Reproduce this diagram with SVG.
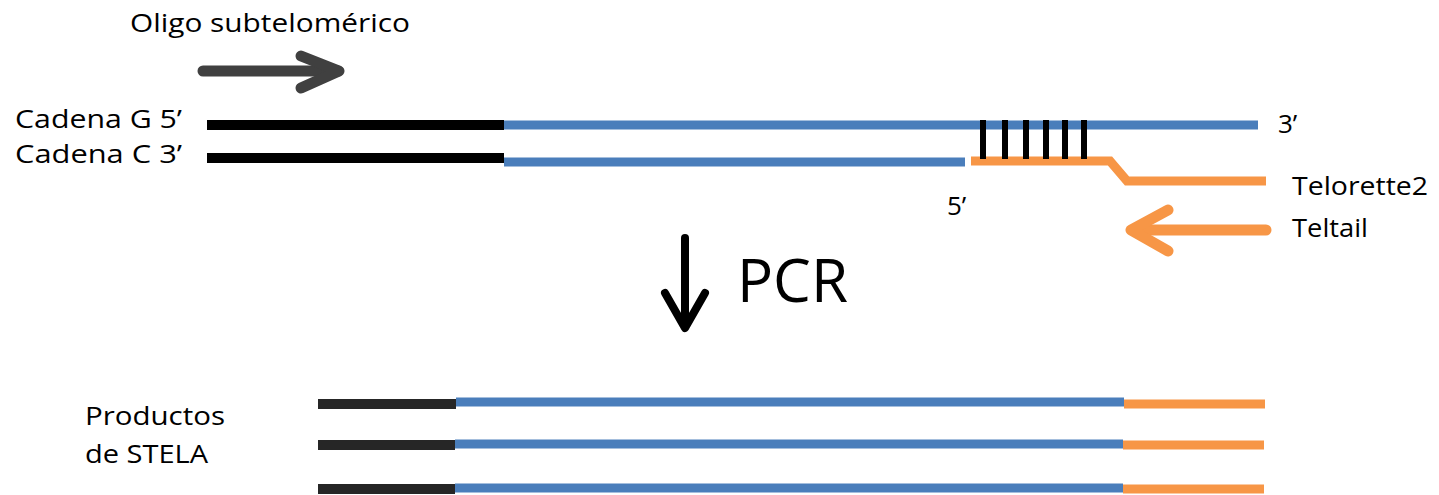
<svg xmlns="http://www.w3.org/2000/svg" width="1439" height="495" viewBox="0 0 1439 495">
  <style>
    .lbl { font-family: "Open Sans", "Liberation Sans", sans-serif; font-size: 26px; fill: #000; }
    .big { font-family: "Open Sans", "Liberation Sans", sans-serif; font-size: 60px; fill: #000; }
    .blk { stroke: #000; stroke-width: 10; fill: none; }
    .dk { stroke: #262626; stroke-width: 10; fill: none; }
    .blu { stroke: #4a7ebb; stroke-width: 9; fill: none; }
    .org { stroke: #f79646; stroke-width: 9; fill: none; }
    .tick { stroke: #000; stroke-width: 6; }
  </style>
  <rect width="1439" height="495" fill="#fff"/>

  <!-- labels -->
  <g id="labels">
    <text class="lbl" x="130" y="32" textLength="280" lengthAdjust="spacingAndGlyphs">Oligo subtelomérico</text>
    <text class="lbl" x="15" y="128" textLength="167" lengthAdjust="spacingAndGlyphs">Cadena G 5’</text>
    <text class="lbl" x="15" y="163" textLength="167" lengthAdjust="spacingAndGlyphs">Cadena C 3’</text>
    <text class="lbl" x="1278" y="133">3’</text>
    <text class="lbl" x="947" y="215">5’</text>
    <text class="lbl" x="1292" y="195" textLength="136" lengthAdjust="spacingAndGlyphs">Telorette2</text>
    <text class="lbl" x="1292" y="237" textLength="76" lengthAdjust="spacingAndGlyphs">Teltail</text>
    <text class="big" x="737" y="302" textLength="111" lengthAdjust="spacingAndGlyphs">PCR</text>
    <text class="lbl" x="85" y="425" textLength="140" lengthAdjust="spacingAndGlyphs">Productos</text>
    <text class="lbl" x="85" y="463" textLength="123" lengthAdjust="spacingAndGlyphs">de STELA</text>
  </g>

  <!-- primer oligo arrow (forward) -->
  <g id="oligo-arrow" stroke="#404040" stroke-width="11" stroke-linecap="round" stroke-linejoin="round" fill="none">
    <line x1="203" y1="71" x2="338" y2="71"/>
    <polyline points="301,56 339,71 301,88"/>
  </g>

  <!-- G strand -->
  <g id="g-strand">
    <line class="blk" x1="207" y1="125" x2="504" y2="125"/>
    <line class="blu" x1="504" y1="125" x2="1258" y2="125"/>
  </g>

  <!-- C strand -->
  <g id="c-strand">
    <line class="blk" x1="207" y1="158" x2="504" y2="158"/>
    <line class="blu" x1="504" y1="162" x2="965" y2="162"/>
  </g>

  <!-- Telorette2 linker with base pairing -->
  <g id="telorette2">
    <polyline class="org" points="971,161 1110,161 1127,181 1266,181"/>
    <g id="pairs">
      <line class="tick" x1="983" y1="120" x2="983" y2="159"/>
      <line class="tick" x1="1005" y1="120" x2="1005" y2="159"/>
      <line class="tick" x1="1026" y1="120" x2="1026" y2="159"/>
      <line class="tick" x1="1046" y1="120" x2="1046" y2="159"/>
      <line class="tick" x1="1065" y1="120" x2="1065" y2="159"/>
      <line class="tick" x1="1084" y1="120" x2="1084" y2="159"/>
    </g>
  </g>

  <!-- Teltail primer arrow (reverse) -->
  <g id="teltail-arrow" stroke="#f79646" stroke-width="11" stroke-linecap="round" stroke-linejoin="round" fill="none">
    <line x1="1133" y1="230" x2="1266" y2="230"/>
    <polyline points="1168,210 1131,230 1168,251"/>
  </g>

  <!-- PCR step arrow -->
  <g id="pcr-arrow" stroke="#000" stroke-width="8" stroke-linecap="round" stroke-linejoin="round" fill="none">
    <line x1="685" y1="238" x2="685" y2="326"/>
    <polyline points="665,293 685,328 705,293"/>
  </g>

  <!-- STELA products -->
  <g id="products">
    <g id="product-1">
      <line class="dk" x1="318" y1="404" x2="456" y2="404"/>
      <line class="blu" x1="456" y1="402" x2="1124" y2="402"/>
      <line class="org" x1="1124" y1="404" x2="1265" y2="404"/>
    </g>
    <g id="product-2">
      <line class="dk" x1="318" y1="445" x2="455" y2="445"/>
      <line class="blu" x1="455" y1="444" x2="1123" y2="444"/>
      <line class="org" x1="1123" y1="445" x2="1264" y2="445"/>
    </g>
    <g id="product-3">
      <line class="dk" x1="318" y1="489" x2="455" y2="489"/>
      <line class="blu" x1="455" y1="488" x2="1123" y2="488"/>
      <line class="org" x1="1123" y1="489" x2="1264" y2="489"/>
    </g>
  </g>
</svg>
